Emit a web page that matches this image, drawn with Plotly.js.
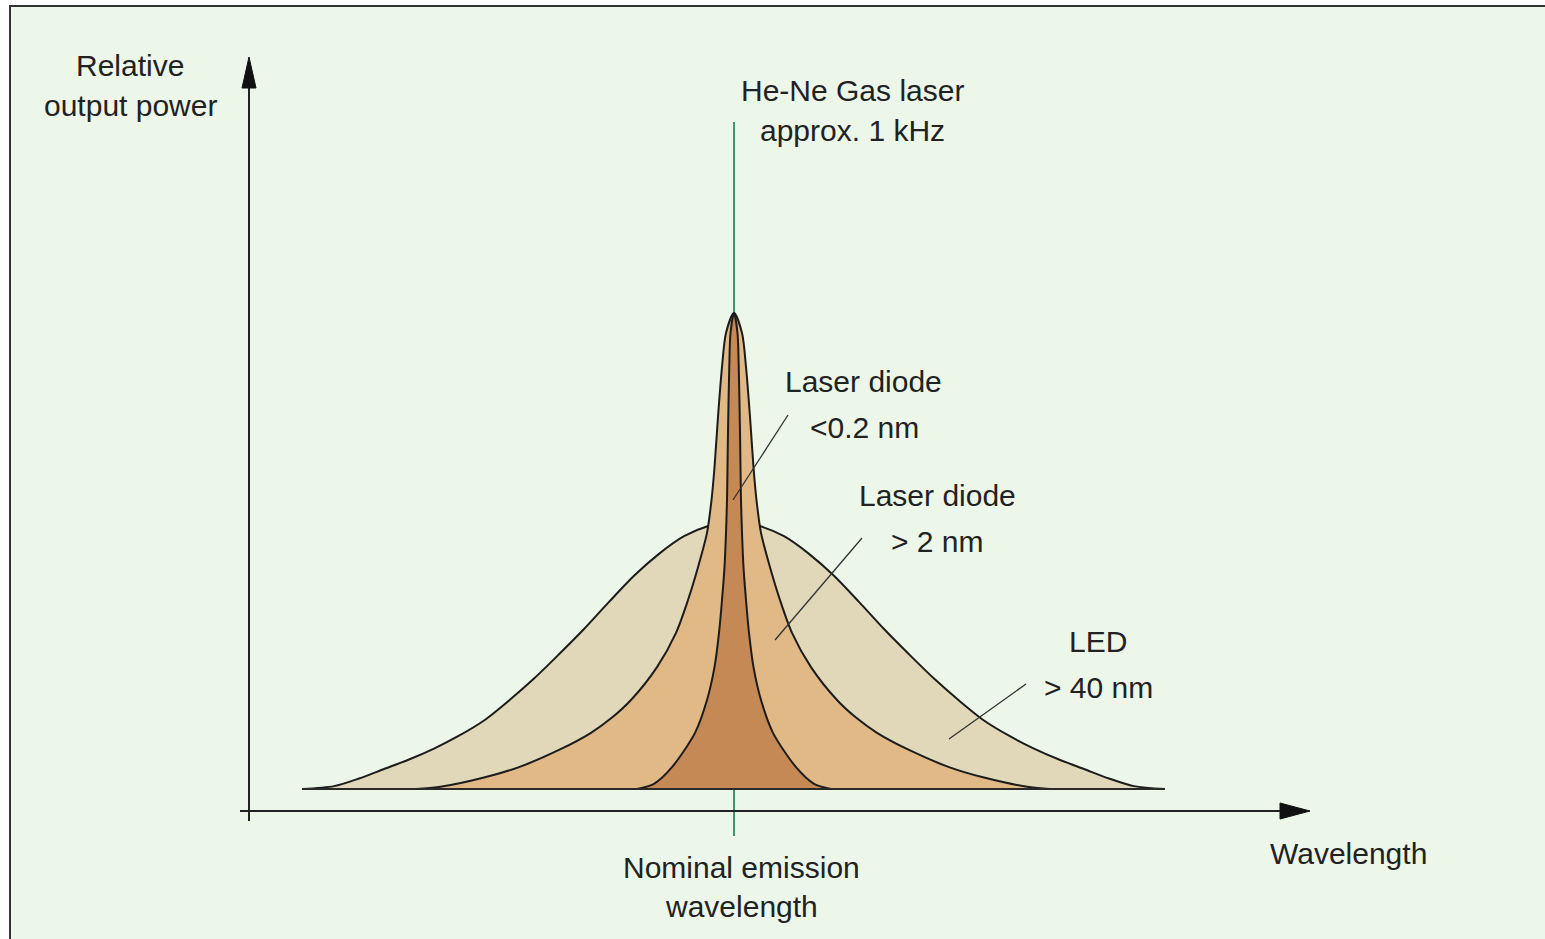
<!DOCTYPE html>
<html>
<head>
<meta charset="utf-8">
<script src="https://cdn.plot.ly/plotly-3.0.1.min.js"></script>
<style>html,body{margin:0;padding:0;background:#fff;}#chart{width:1545px;height:939px;}</style>
</head>
<body>
<div id="chart"></div>
<script>
// ---- Data (wavelength offset from nominal, arbitrary units; relative output power, laser peak = 1) ----
const ledX = [-4.32, -4.0, -3.75, -3.5, -3.25, -3.0, -2.75, -2.5, -2.25, -2.0, -1.75, -1.5, -1.25, -1.0, -0.75, -0.5, -0.25, 0,
              0.25, 0.5, 0.75, 1.0, 1.25, 1.5, 1.75, 2.0, 2.25, 2.5, 2.75, 3.0, 3.25, 3.5, 3.75, 4.0, 4.31];
const ledY = [0, 0.006, 0.022, 0.042, 0.062, 0.085, 0.112, 0.144, 0.186, 0.232, 0.283, 0.336, 0.393, 0.448, 0.494, 0.531, 0.553, 0.563,
              0.553, 0.531, 0.494, 0.448, 0.393, 0.336, 0.283, 0.232, 0.186, 0.144, 0.112, 0.085, 0.062, 0.042, 0.022, 0.006, 0];

const ldWideX = [-3.18, -2.95, -2.50, -2.15, -1.75, -1.43, -1.22, -1.03, -0.77, -0.58, -0.46, -0.36, -0.27, -0.225, -0.195, -0.16, -0.12, -0.08, 0,
                 0.08, 0.12, 0.16, 0.195, 0.225, 0.27, 0.36, 0.46, 0.58, 0.77, 1.03, 1.22, 1.43, 1.75, 2.15, 2.50, 2.95, 3.16];
const ldWideY = [0, 0.004, 0.024, 0.046, 0.082, 0.118, 0.150, 0.187, 0.256, 0.328, 0.397, 0.466, 0.538, 0.607, 0.676, 0.782, 0.887, 0.958, 1.0,
                 0.958, 0.887, 0.782, 0.676, 0.607, 0.538, 0.466, 0.397, 0.328, 0.256, 0.187, 0.150, 0.118, 0.082, 0.046, 0.024, 0.004, 0];

const ldNarrowX = [-0.97, -0.80, -0.62, -0.39, -0.27, -0.195, -0.15, -0.12, -0.095, -0.08, -0.07, -0.065, -0.06, -0.047, -0.035, 0,
                   0.035, 0.047, 0.06, 0.065, 0.07, 0.08, 0.095, 0.12, 0.15, 0.195, 0.27, 0.39, 0.62, 0.80, 0.97];
const ldNarrowY = [0, 0.011, 0.046, 0.118, 0.187, 0.256, 0.328, 0.397, 0.466, 0.538, 0.607, 0.676, 0.750, 0.890, 0.958, 1.0,
                   0.958, 0.890, 0.750, 0.676, 0.607, 0.538, 0.466, 0.397, 0.328, 0.256, 0.187, 0.118, 0.046, 0.011, 0];

const heNeX = [0, 0];
const heNeY = [-0.099, 1.401];

const seriesNames = ["LED > 40 nm", "Laser diode > 2 nm", "Laser diode <0.2 nm", "He-Ne Gas laser approx. 1 kHz"];
const labelLines = [
  ["Relative", "output power"],
  ["He-Ne Gas laser", "approx. 1 kHz"],
  ["Laser diode", "<0.2 nm"],
  ["Laser diode", "> 2 nm"],
  ["LED", "> 40 nm"],
  ["Nominal emission", "wavelength"],
  ["Wavelength"]
];

// ---- Layout helpers (pixel -> axis coordinates) ----
const W = 1545, H = 939;
const PX0 = 734, PXS = 100, PY0 = 789, PYS = 476;
const X = px => (px - PX0) / PXS;
const Y = py => (PY0 - py) / PYS;

const colors = {
  bg: "#ECF7E9", led: "#E0D8B8", wide: "#E1B987", narrow: "#C48955",
  edge: "#1c1c1c", green: "#1B7A50", text: "#222222", axis: "#222222"
};

const traces = [
  {x: heNeX, y: heNeY, mode: "lines", name: seriesNames[3], line: {color: colors.green, width: 1.6}},
  {x: ledX, y: ledY, mode: "lines", name: seriesNames[0], fill: "tozeroy", fillcolor: colors.led,
   line: {color: colors.edge, width: 2, shape: "spline", smoothing: 0.8}},
  {x: ldWideX, y: ldWideY, mode: "lines", name: seriesNames[1], fill: "tozeroy", fillcolor: colors.wide,
   line: {color: colors.edge, width: 2, shape: "spline", smoothing: 0.8}},
  {x: ldNarrowX, y: ldNarrowY, mode: "lines", name: seriesNames[2], fill: "tozeroy", fillcolor: colors.narrow,
   line: {color: colors.edge, width: 2, shape: "spline", smoothing: 0.8}}
];

const shapes = [
  // frame
  {type: "rect", xref: "paper", yref: "paper", x0: 10 / W, x1: 1.02, y0: -0.02, y1: 1 - 6 / H,
   fillcolor: colors.bg, line: {color: "#333", width: 2}, layer: "below"},
  // baseline under curves
  {type: "line", x0: Math.min(...ledX), x1: Math.max(...ledX), y0: 0, y1: 0, line: {color: "#2a2a2a", width: 2.2}},
  // y axis
  {type: "line", x0: X(249), x1: X(249), y0: Y(821), y1: Y(80), line: {color: colors.axis, width: 2}},
  {type: "path", path: `M ${X(249)} ${Y(57)} L ${X(242)} ${Y(88)} L ${X(256)} ${Y(88)} Z`,
   fillcolor: "#111", line: {color: "#111", width: 1}},
  // x axis
  {type: "line", x0: X(240), x1: X(1290), y0: Y(811), y1: Y(811), line: {color: colors.axis, width: 2}},
  {type: "path", path: `M ${X(1310)} ${Y(811)} L ${X(1280)} ${Y(803)} L ${X(1280)} ${Y(819)} Z`,
   fillcolor: "#111", line: {color: "#111", width: 1}},
  // leader lines
  {type: "line", x0: X(788), y0: Y(415), x1: X(733), y1: Y(500), line: {color: "#333", width: 1.3}},
  {type: "line", x0: X(862), y0: Y(538), x1: X(775), y1: Y(640), line: {color: "#333", width: 1.3}},
  {type: "line", x0: X(1026), y0: Y(684), x1: X(949), y1: Y(739), line: {color: "#333", width: 1.3}}
];

const labelPos = [
  [[130, 65], [130, 105]],
  [[852, 90], [852, 130]],
  [[863, 381], [864, 427]],
  [[937, 495], [937, 541]],
  [[1098, 641], [1098, 687]],
  [[741, 867], [741, 906]],
  [[1348, 853]]
];

const annotations = [];
labelLines.forEach((lines, i) => {
  lines.forEach((t, j) => {
    annotations.push({
      x: X(labelPos[i][j][0]), y: Y(labelPos[i][j][1]), xref: "x", yref: "y",
      text: t, showarrow: false, xanchor: "center", yanchor: "middle",
      font: {family: "Liberation Sans, Arial, sans-serif", size: 30, color: colors.text}
    });
  });
});

const layout = {
  width: W, height: H,
  margin: {l: 0, r: 0, t: 0, b: 0, pad: 0},
  paper_bgcolor: "#ffffff", plot_bgcolor: "rgba(0,0,0,0)",
  showlegend: false, hovermode: false,
  xaxis: {range: [X(0), X(W)], visible: false, fixedrange: true},
  yaxis: {range: [Y(H), Y(0)], visible: false, fixedrange: true},
  shapes: shapes, annotations: annotations
};

Plotly.newPlot("chart", traces, layout, {displayModeBar: false, staticPlot: true});
</script>
</body>
</html>
